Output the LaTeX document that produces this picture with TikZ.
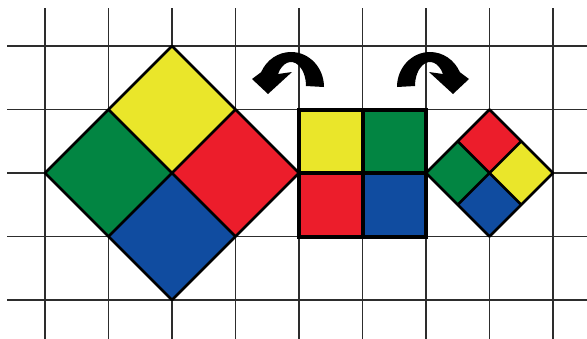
\documentclass[tikz,border=0pt]{standalone}
\definecolor{cyel}{RGB}{234,230,42}
\definecolor{cgrn}{RGB}{2,133,66}
\definecolor{cred}{RGB}{236,29,43}
\definecolor{cblu}{RGB}{16,76,160}
\definecolor{cgrid}{RGB}{45,45,45}
\tikzset{
  gridline/.style={draw=cgrid,line width=1.1pt},
  tile/.style={draw=black,line width=2pt,line join=round},
  boldtile/.style={draw=black,line width=3pt,line join=miter},
  curlarrow/.style={fill=black,draw=none}
}
\begin{document}
\begin{tikzpicture}[x=0.75pt,y=-0.75pt]
\useasboundingbox (0,0) rectangle (587,339);
% grid
\foreach \k in {0,...,8} {
  \draw[gridline] ({45+63.5*\k},8) -- ({45+63.5*\k},339);
}
\foreach \k in {0,...,4} {
  \draw[gridline] (7,{46+63.5*\k}) -- (587,{46+63.5*\k});
}
% big diamond, centre (172,173), half-diagonal 127
\coordinate (C) at (172,173);
\coordinate (T) at (172,46);
\coordinate (B) at (172,300);
\coordinate (L) at (45,173);
\coordinate (R) at (299,173);
\coordinate (TL) at (108.5,109.5);
\coordinate (TR) at (235.5,109.5);
\coordinate (BL) at (108.5,236.5);
\coordinate (BR) at (235.5,236.5);
\fill[cyel] (T) -- (TR) -- (C) -- (TL) -- cycle;
\fill[cgrn] (TL) -- (C) -- (BL) -- (L) -- cycle;
\fill[cred] (TR) -- (R) -- (BR) -- (C) -- cycle;
\fill[cblu] (C) -- (BR) -- (B) -- (BL) -- cycle;
\draw[tile] (T) -- (R) -- (B) -- (L) -- cycle;
\draw[tile] (TL) -- (BR) (TR) -- (BL);
% middle square
\fill[cyel] (299,109.5) rectangle (362.5,173);
\fill[cgrn] (362.5,109.5) rectangle (426,173);
\fill[cred] (299,173) rectangle (362.5,236.5);
\fill[cblu] (362.5,173) rectangle (426,236.5);
\draw[boldtile] (299,109.5) rectangle (426,236.5);
\draw[boldtile] (362.5,109.5) -- (362.5,236.5) (299,173) -- (426,173);
% small diamond, centre (489.5,173)
\coordinate (c) at (489.5,173);
\coordinate (t) at (489.5,109.5);
\coordinate (b) at (489.5,236.5);
\coordinate (l) at (426,173);
\coordinate (r) at (553,173);
\coordinate (tl) at (457.75,141.25);
\coordinate (tr) at (521.25,141.25);
\coordinate (bl) at (457.75,204.75);
\coordinate (br) at (521.25,204.75);
\fill[cred] (t) -- (tr) -- (c) -- (tl) -- cycle;
\fill[cgrn] (tl) -- (c) -- (bl) -- (l) -- cycle;
\fill[cyel] (tr) -- (r) -- (br) -- (c) -- cycle;
\fill[cblu] (c) -- (br) -- (b) -- (bl) -- cycle;
\draw[tile] (t) -- (r) -- (b) -- (l) -- cycle;
\draw[tile] (tl) -- (br) (tr) -- (bl);
% curved arrows
\fill[curlarrow] (324,87) arc[start angle=0,end angle=-155,x radius=33,y radius=35]
  -- (252,79) -- (268,94) -- (292,72) -- (278,74)
  arc[start angle=-150,end angle=0,x radius=15,y radius=24] -- cycle;
\begin{scope}[xshift=721*0.75pt,xscale=-1]
\fill[curlarrow] (324,87) arc[start angle=0,end angle=-155,x radius=33,y radius=35]
  -- (252,79) -- (268,94) -- (292,72) -- (278,74)
  arc[start angle=-150,end angle=0,x radius=15,y radius=24] -- cycle;
\end{scope}
\end{tikzpicture}
\end{document}
